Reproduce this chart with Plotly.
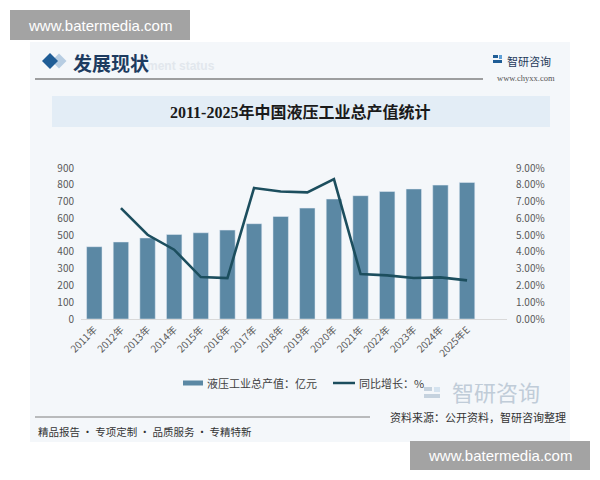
import plotly.graph_objects as go

years = ["2011年", "2012年", "2013年", "2014年", "2015年", "2016年", "2017年", "2018年",
         "2019年", "2020年", "2021年", "2022年", "2023年", "2024年", "2025年E"]
output_value = [431, 459, 483, 504, 514, 530, 568, 611, 661, 715, 735, 760, 775, 798, 814]
growth_rate = [None, 0.0661, 0.0502, 0.0413, 0.0250, 0.0244, 0.0781, 0.0760, 0.0755,
               0.0834, 0.0268, 0.0260, 0.0244, 0.0248, 0.0230]
left_ticks = [0, 100, 200, 300, 400, 500, 600, 700, 800, 900]
right_ticks = [0, 0.01, 0.02, 0.03, 0.04, 0.05, 0.06, 0.07, 0.08, 0.09]

BAR = "#5b88a4"
LINE = "#1c4e5e"
CJK = "Noto Sans CJK SC"

L, R, T, B = 81, 507, 168, 319


def px(x):
    return (x - L) / (R - L)


def py(y):
    return (B - y) / (B - T)


fig = go.Figure()
fig.add_trace(go.Bar(x=years, y=output_value, marker_color=BAR, width=0.58,
                     name="液压工业总产值：亿元", showlegend=False))
fig.add_trace(go.Scatter(x=years, y=growth_rate, yaxis="y2", mode="lines",
                         line=dict(color=LINE, width=2.6), connectgaps=False,
                         name="同比增长：%", showlegend=False))

shapes = []
annos = []


def rect(x0, y0, x1, y1, color, layer="below"):
    shapes.append(dict(type="rect", xref="paper", yref="paper", x0=px(x0), x1=px(x1),
                       y0=py(y0), y1=py(y1), fillcolor=color, line=dict(width=0), layer=layer))


def hline(x0, x1, y, color, width):
    shapes.append(dict(type="line", xref="paper", yref="paper", x0=px(x0), x1=px(x1),
                       y0=py(y), y1=py(y), line=dict(color=color, width=width), layer="above"))


def text(x, y, s, size, color, anchor="left", family=CJK, bold=False):
    annos.append(dict(xref="paper", yref="paper", x=px(x), y=py(y), text=("<b>%s</b>" % s) if bold else s,
                      showarrow=False, xanchor=anchor, yanchor="middle",
                      font=dict(size=size, color=color, family=family)))


def diamond(cx, cy, h, color):
    pts = [(cx, cy - h), (cx + h, cy), (cx, cy + h), (cx - h, cy)]
    path = "M " + " L ".join("%f,%f" % (px(a), py(b)) for a, b in pts) + " Z"
    shapes.append(dict(type="path", xref="paper", yref="paper", path=path,
                       fillcolor=color, line=dict(width=0), layer="above"))


# panel background
rect(30, 42, 570, 442, "#f4f7fa")
# title banner
rect(52, 96, 550, 127, "#e3edf6")
text(300, 112, "2011-2025年中国液压工业总产值统计", 16, "#1a1a1a", "center",
     "Liberation Serif, " + CJK, True)

# header
diamond(59, 61, 7.5, "#b7cde2")
diamond(50, 61, 8, "#1f5d96")
text(145, 66, "ment status", 12, "#e2e7ed", "left", "Liberation Sans", True)
text(71, 62, "发展现状", 19, "#1d3b60", "left", CJK, True)
hline(35, 483, 79, "#808080", 1.5)

# top-right logo
rect(493, 55, 498, 58, "#1f5d96", "above")
rect(493, 60, 502, 63, "#1f5d96", "above")
rect(499, 55, 502, 59, "#5fa0d8", "above")
text(505, 61, "智研咨询", 11, "#1f3a5a")
text(526, 78, "www.chyxx.com", 8.5, "#555555", "center", "Liberation Serif")

# legend (manual)
rect(183, 380.5, 203, 385.5, BAR, "above")
text(205, 383, "液压工业总产值：亿元", 11, "#404040")
hline(333, 355, 383, LINE, 2.5)
text(357, 383, "同比增长：%", 11, "#404040")

# big faint logo
rect(424, 387, 432, 391, "#c5d2de")
rect(424, 394, 440, 398, "#c5d2de")
rect(434, 387, 440, 392, "#d5e3ef")
text(496, 391, "智研咨询", 22, "#c0ccd8", "center")

# footer
hline(35, 370, 417, "#7f7f7f", 1)
text(36, 431, "精品报告 · 专项定制 · 品质服务 · 专精特新", 10.5, "#333333")
text(568, 417, "资料来源：公开资料，智研咨询整理", 11, "#333333", "right")

# site watermarks
rect(10, 10, 190, 40, "#a3a3a3", "above")
text(100, 25, "www.batermedia.com", 15, "#ffffff", "center", "Liberation Sans")
rect(410, 441, 590, 470, "#a3a3a3", "above")
text(500, 455.5, "www.batermedia.com", 15, "#ffffff", "center", "Liberation Sans")

fig.update_layout(
    width=600, height=480, autosize=False,
    margin=dict(l=L, r=600 - R, t=T, b=480 - B, pad=0),
    paper_bgcolor="white", plot_bgcolor="rgba(0,0,0,0)",
    bargap=0.42,
    shapes=shapes, annotations=annos,
    xaxis=dict(type="category", range=[-0.5, 15.5], tickangle=-45,
               tickfont=dict(size=10, color="#595959", family=CJK),
               showline=True, linecolor="#d9d9d9", linewidth=1, ticks="",
               showgrid=False, zeroline=False),
    yaxis=dict(range=[0, 900], tickvals=left_ticks, showgrid=False, zeroline=False,
               tickfont=dict(size=10, color="#595959", family=CJK),
               showline=False, ticks="", ticklabelstandoff=6),
    yaxis2=dict(range=[0, 0.09], tickvals=right_ticks, tickformat=".2%", overlaying="y",
                side="right", showgrid=False, zeroline=False, showline=False, ticks="",
                tickfont=dict(size=10, color="#595959", family=CJK), ticklabelstandoff=8),
    showlegend=False,
)

fig.write_html("out.html")
